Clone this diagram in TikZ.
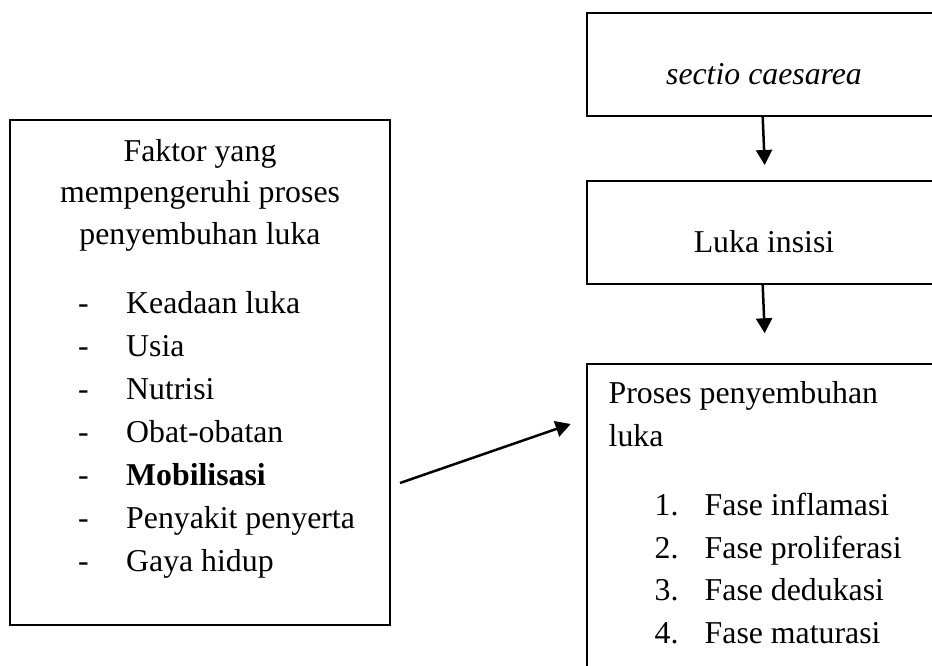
\documentclass[tikz,border=0pt]{standalone}
\usepackage{fontspec}
\setmainfont{Liberation Serif}
\usetikzlibrary{arrows.meta}

\begin{document}
\begin{tikzpicture}[
  x=1pt,
  y=-1pt,
  flow box/.style={
    draw,
    rectangle,
    line width=2pt,
    inner sep=0pt
  },
  flow arrow/.style={
    draw,
    line width=2.5pt,
    -{Triangle[length=15pt,width=16pt]}
  },
  box text/.style={
    inner sep=0pt,
    font=\fontsize{31.8pt}{42pt}\selectfont
  },
]
\useasboundingbox (0,0) rectangle (932,666);
\clip (0,0) rectangle (932,666);

% boxes
\node[flow box, minimum width=380pt, minimum height=505pt] (faktor) at (200,372.5) {};
\node[flow box, minimum width=354pt, minimum height=103pt] (sectio) at (764,64.5) {};
\node[flow box, minimum width=354pt, minimum height=103pt] (insisi) at (764,232.5) {};
\node[flow box, minimum width=354pt, minimum height=326pt] (proses) at (764,527) {};

% left box text
\node[box text, anchor=base] (faktor title a) at (200,161) {Faktor yang};
\node[box text, anchor=base] (faktor title b) at (200,202) {mempengeruhi proses};
\node[box text, anchor=base] (faktor title c) at (200,244) {penyembuhan luka};
\foreach \name [count=\i from 0] in {Keadaan luka, Usia, Nutrisi, Obat-obatan,
    \textbf{Mobilisasi}, Penyakit penyerta, Gaya hidup}{
  \node[box text, anchor=base west] (dash \i) at (78,313+43*\i) {-};
  \node[box text, anchor=base west] (factor \i) at (126,313+43*\i) {\name};
}

% right boxes text
\node[box text, anchor=base] (sectio text) at (764,85) {\textit{sectio caesarea}};
\node[box text, anchor=base] (insisi text) at (764,252.5) {Luka insisi};
\node[box text, anchor=base west] (proses title a) at (608.5,403) {Proses penyembuhan};
\node[box text, anchor=base west] (proses title b) at (608.5,446) {luka};
\foreach \name [count=\i] in {Fase inflamasi, Fase proliferasi, Fase dedukasi, Fase maturasi}{
  \node[box text, anchor=base west] (num \i) at (654.5,473+42.5*\i) {\i.};
  \node[box text, anchor=base west] (phase \i) at (704.5,473+42.5*\i) {\name};
}

% arrows
\coordinate (tip a) at (764.7,165);
\coordinate (tip b) at (764.7,333.3);
\coordinate (mob start) at (400,483);
\coordinate (mob tip) at (570.7,424);
\draw[flow arrow] ([xshift=-1.3pt]sectio.south) -- (tip a);
\draw[flow arrow] ([xshift=-1.3pt]insisi.south) -- (tip b);
\draw[flow arrow] (mob start) -- (mob tip);
\end{tikzpicture}
\end{document}
